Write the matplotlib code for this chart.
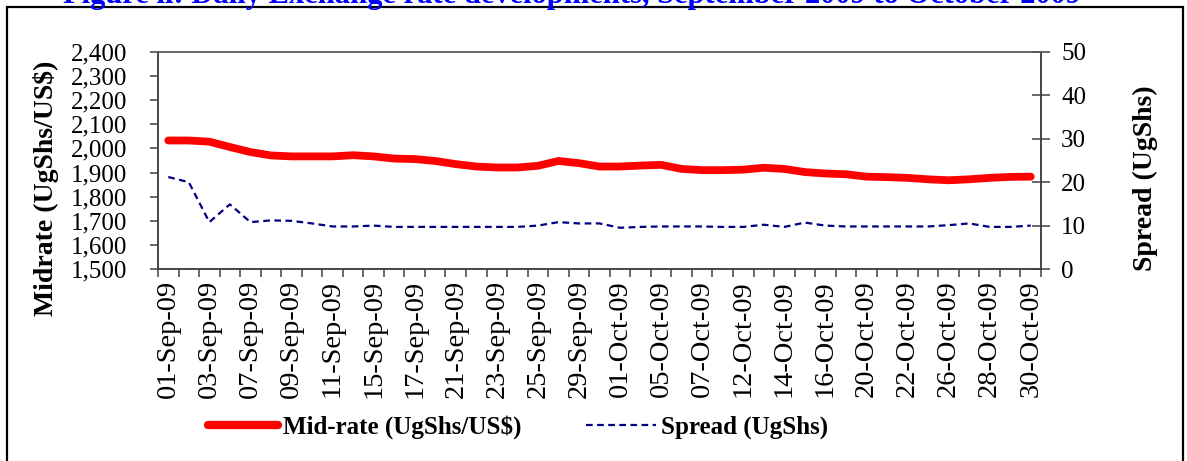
import matplotlib
matplotlib.use("Agg")
import matplotlib.pyplot as plt
from matplotlib.lines import Line2D
from matplotlib.patches import Rectangle
import numpy as np

dates = ["01-Sep-09", "02-Sep-09", "03-Sep-09", "04-Sep-09", "07-Sep-09", "08-Sep-09",
         "09-Sep-09", "10-Sep-09", "11-Sep-09", "14-Sep-09", "15-Sep-09", "16-Sep-09",
         "17-Sep-09", "18-Sep-09", "21-Sep-09", "22-Sep-09", "23-Sep-09", "24-Sep-09",
         "25-Sep-09", "28-Sep-09", "29-Sep-09", "30-Sep-09", "01-Oct-09", "02-Oct-09",
         "05-Oct-09", "06-Oct-09", "07-Oct-09", "08-Oct-09", "12-Oct-09", "13-Oct-09",
         "14-Oct-09", "15-Oct-09", "16-Oct-09", "19-Oct-09", "20-Oct-09", "21-Oct-09",
         "22-Oct-09", "23-Oct-09", "26-Oct-09", "27-Oct-09", "28-Oct-09", "29-Oct-09",
         "30-Oct-09"]

midrate = [2033, 2033, 2028, 2006, 1985, 1971, 1967, 1967, 1967, 1972, 1967, 1958,
           1956, 1948, 1935, 1925, 1921, 1921, 1928, 1948, 1939, 1925, 1925, 1929,
           1932, 1915, 1910, 1910, 1912, 1920, 1915, 1902, 1896, 1893, 1883, 1881,
           1878, 1872, 1868, 1872, 1878, 1882, 1883]

spread = [21.2, 20.0, 10.8, 14.9, 10.8, 11.2, 11.1, 10.5, 9.8, 9.8, 10.0, 9.7,
          9.7, 9.7, 9.7, 9.7, 9.7, 9.7, 10.0, 10.8, 10.5, 10.5, 9.5, 9.7,
          9.8, 9.8, 9.8, 9.7, 9.7, 10.2, 9.7, 10.7, 10.0, 9.8, 9.8, 9.8,
          9.8, 9.8, 10.1, 10.5, 9.7, 9.7, 10.0]

left_ticks = [1500, 1600, 1700, 1800, 1900, 2000, 2100, 2200, 2300, 2400]
right_ticks = [0, 10, 20, 30, 40, 50]

title = "Figure ii: Daily Exchange rate developments, September 2009 to October 2009"
serif = ["Liberation Serif", "DejaVu Serif"]

W, H = 1187, 461
fig = plt.figure(figsize=(W / 100, H / 100), dpi=100)
fig.patch.set_facecolor("white")

# outer border (bottom edge lies outside the picture, as in the reference)
fig.add_artist(Rectangle((7 / W, -0.1), (1183 - 7) / W, 1.1 - 7 / H,
                         transform=fig.transFigure, fill=False, lw=1.6,
                         edgecolor="black"))
# title, only its lower part visible as in the reference
fig.text(0.482, 1 - 2.5 / H, title, color="#0000FF", fontsize=22,
         fontweight="bold", family=serif, ha="center", va="baseline")

ax = fig.add_axes([158 / W, 1 - 269 / H, (1041 - 158) / W, (269 - 52) / H])
ax2 = ax.twinx()

x = np.arange(len(dates))
ax.plot(x, midrate, color="#FF0000", lw=5.6, solid_capstyle="round",
        solid_joinstyle="round", zorder=3)
ax2.plot(x, spread, color="#000080", lw=1.6, dashes=(3, 2), zorder=3)

ax.set_xlim(-0.5, len(dates) - 0.5)
ax.set_ylim(1500, 2400)
ax2.set_ylim(0, 50)

axc = "#404040"
for a in (ax, ax2):
    for s in a.spines.values():
        s.set_color(axc)
        s.set_linewidth(1.1)
    a.spines["top"].set_color("#606060")

ax.set_yticks(left_ticks)
ax.set_yticklabels([f"{v:,}" for v in left_ticks])
ax.tick_params(axis="y", direction="out", length=6, width=1.1, color=axc,
               pad=16, labelsize=18)
ax2.set_yticks(right_ticks)
ax2.tick_params(axis="y", direction="inout", length=13, width=1.1, color=axc,
                pad=8, labelsize=18)

ax.set_xticks(x[::2])
ax.set_xticklabels(dates[::2], rotation=90)
ax.set_xticks(np.arange(-0.5, len(dates)), minor=True)
ax.tick_params(axis="x", which="major", length=0, pad=8, labelsize=20.5)
ax.tick_params(axis="x", which="minor", direction="out", length=6, width=1.1,
               color=axc)

for lab in ax.get_xticklabels() + ax.get_yticklabels() + ax2.get_yticklabels():
    lab.set_family(serif)

fig.text(46 / W, 1 - 188 / H, "Midrate (UgShs/US$)", rotation=90, fontsize=20,
         fontweight="bold", family=serif, ha="center", va="center")
fig.text(1145 / W, 1 - 178 / H, "Spread (UgShs)", rotation=90, fontsize=20,
         fontweight="bold", family=serif, ha="center", va="center")

handles = [Line2D([], [], color="#FF0000", lw=6, solid_capstyle="round"),
           Line2D([], [], color="#000080", lw=1.6, dashes=(3, 2))]
fig.legend(handles, ["Mid-rate (UgShs/US$)", "Spread (UgShs)"], ncol=2,
           loc="center", bbox_to_anchor=(518 / W, 1 - 427 / H), frameon=False,
           prop={"family": serif, "weight": "bold", "size": 18},
           handlelength=2.8, handletextpad=0.2, columnspacing=2.6)

fig.savefig("out.png", dpi=100, facecolor="white")
